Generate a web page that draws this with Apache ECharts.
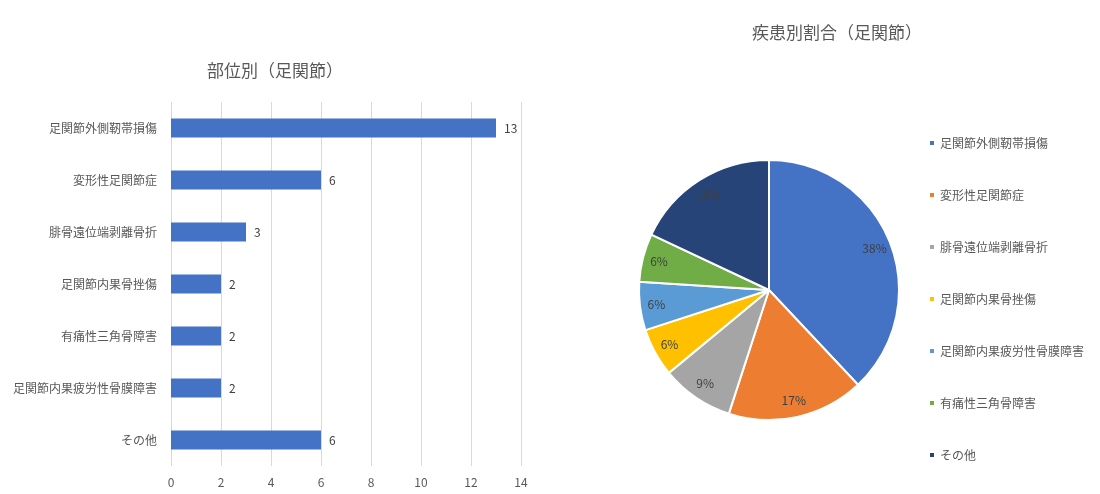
<!DOCTYPE html>
<html><head><meta charset="utf-8">
<script src="https://cdn.jsdelivr.net/npm/echarts@6/dist/echarts.min.js"></script>
<style>html,body{margin:0;padding:0;background:#fff}#c{width:1100px;height:494px}</style>
</head><body><div id="c"></div>
<script>
const barCategories = ['足関節外側靭帯損傷','変形性足関節症','腓骨遠位端剥離骨折','足関節内果骨挫傷','有痛性三角骨障害','足関節内果疲労性骨膜障害','その他'];
const barValues = [13, 6, 3, 2, 2, 2, 6];
const xTicks = [0, 2, 4, 6, 8, 10, 12, 14];
const pieNames = ['足関節外側靭帯損傷','変形性足関節症','腓骨遠位端剥離骨折','足関節内果骨挫傷','足関節内果疲労性骨膜障害','有痛性三角骨障害','その他'];
const piePercents = [38, 17, 9, 6, 6, 6, 18];
const pieColors = ['#4472C4','#ED7D31','#A5A5A5','#FFC000','#5B9BD5','#70AD47','#264478'];

const FONT = '"Noto Sans CJK JP", "Noto Sans", sans-serif';
const pieData = pieNames.map((n, i) => ({ name: n, value: piePercents[i], itemStyle: { color: pieColors[i] } }));
const pieLabelData = pieNames.map((n, i) => ({ name: n, value: piePercents[i] }));

const chart = echarts.init(document.getElementById('c'));
chart.setOption({
  textStyle: { fontFamily: FONT },
  animation: false,
  title: [
    { text: '部位別（足関節）', left: 270, top: 57, textAlign: 'center',
      textStyle: { fontFamily: FONT, fontSize: 17, fontWeight: 'normal', color: '#595959' } },
    { text: '疾患別割合（足関節）', left: 832, top: 19, textAlign: 'center',
      textStyle: { fontFamily: FONT, fontSize: 17, fontWeight: 'normal', color: '#595959' } }
  ],
  grid: { left: 171, top: 102, width: 350, height: 364 },
  xAxis: {
    type: 'value', min: xTicks[0], max: xTicks[xTicks.length - 1], interval: 2,
    axisLine: { show: false }, axisTick: { show: false },
    splitLine: { show: true, lineStyle: { color: '#D9D9D9', width: 1 } },
    axisLabel: { color: '#595959', fontSize: 12, margin: 10, fontFamily: FONT }
  },
  yAxis: {
    type: 'category', data: barCategories, inverse: true,
    axisLine: { show: false }, axisTick: { show: false },
    axisLabel: { color: '#595959', fontSize: 12, margin: 14, fontFamily: FONT }
  },
  legend: {
    orient: 'vertical', left: 928, top: 137, padding: 0,
    itemWidth: 6, itemHeight: 6, itemGap: 40, icon: 'rect',
    data: pieNames,
    textStyle: { color: '#595959', fontSize: 12, fontFamily: FONT }
  },
  series: [
    {
      type: 'bar', data: barValues, barWidth: 19,
      itemStyle: { color: '#4472C4' },
      label: { show: true, position: 'right', distance: 8, color: '#404040', fontSize: 12, fontFamily: FONT }
    },
    {
      type: 'pie', center: [769, 290], radius: [0, 130], startAngle: 90, clockwise: true,
      data: pieData,
      itemStyle: { borderColor: '#fff', borderWidth: 2 },
      label: { show: false }, labelLine: { show: false },
      emphasis: { disabled: true }
    },
    {
      type: 'pie', center: [769, 290], radius: [91, 130], startAngle: 90, clockwise: true,
      data: pieLabelData, silent: true, legendHoverLink: false,
      itemStyle: { color: 'rgba(0,0,0,0)', borderWidth: 0 },
      label: { show: true, position: 'inside', formatter: '{d}%', color: '#404040', fontSize: 12, fontFamily: FONT },
      labelLine: { show: false },
      emphasis: { disabled: true }
    }
  ]
});
</script>
</body></html>
